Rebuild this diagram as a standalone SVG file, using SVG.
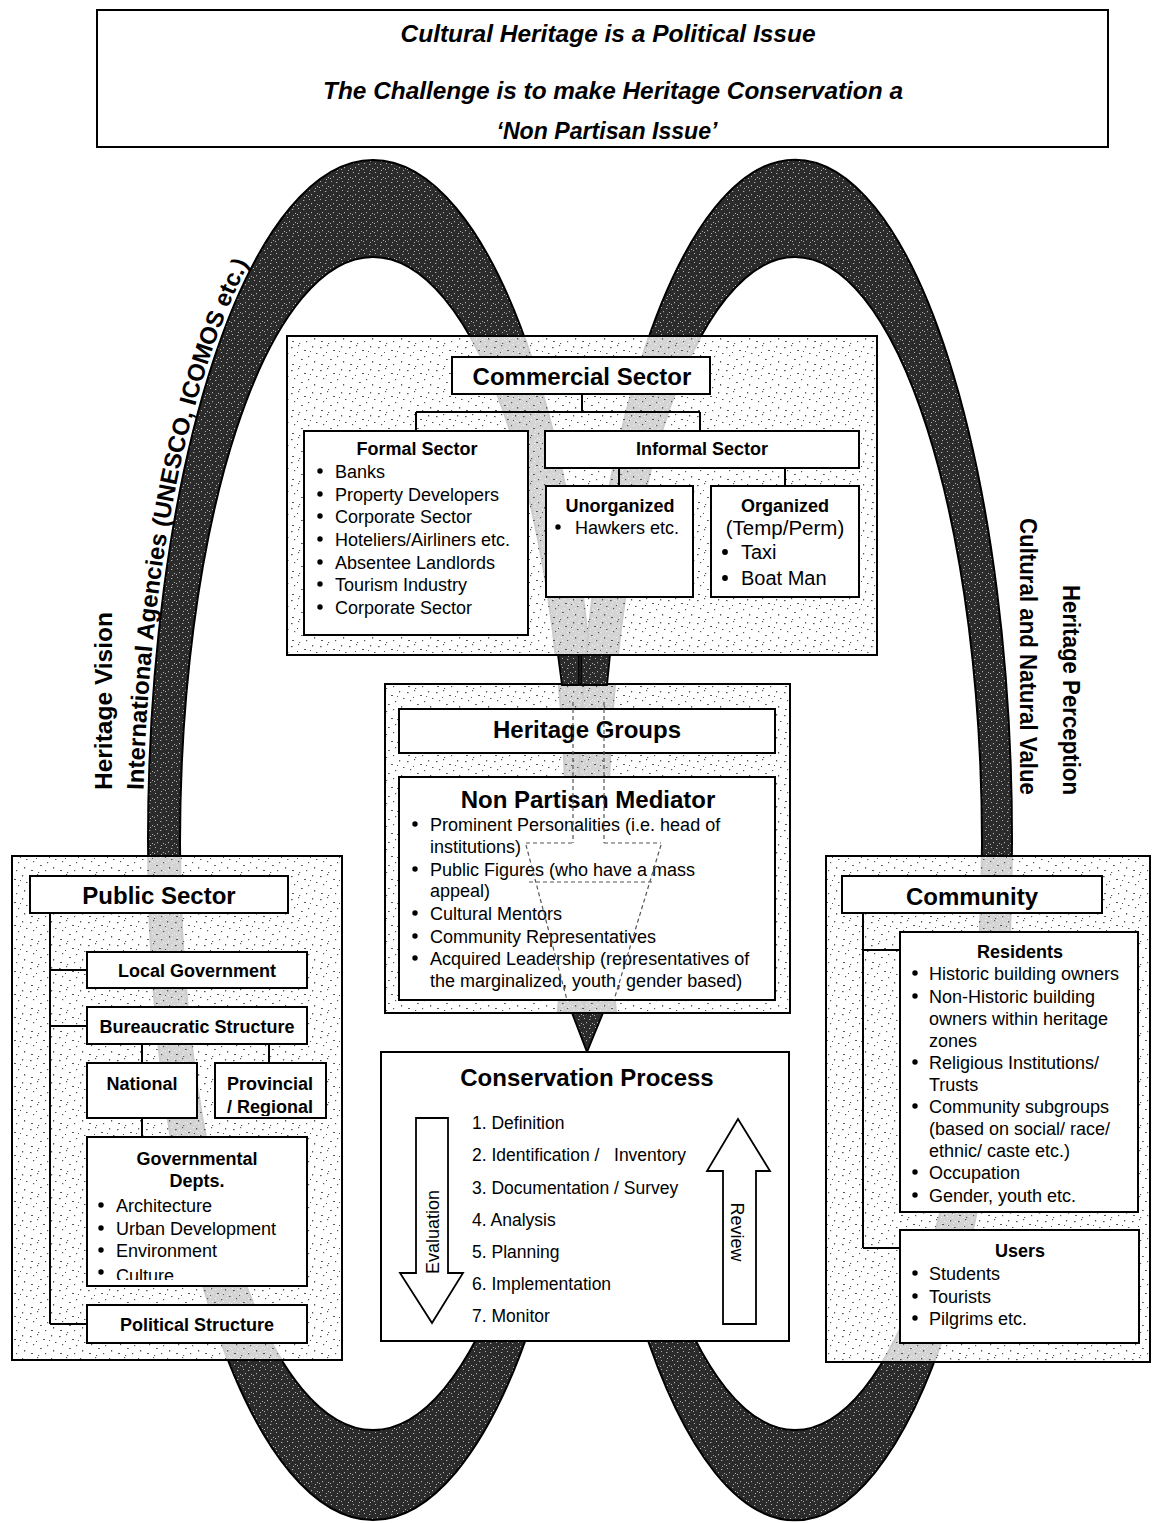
<svg xmlns="http://www.w3.org/2000/svg" width="1153" height="1523" viewBox="0 0 1153 1523">
<defs>
<style>
text{font-family:"Liberation Sans",Arial,sans-serif;fill:#000}
.bx{fill:#fff;stroke:#000;stroke-width:2}
.pn{fill:#fff;fill-opacity:.8}
.pd{fill:url(#stip);stroke:#000;stroke-width:2}
.ln{fill:none;stroke:#000;stroke-width:2}
.h1{font-size:24px;font-weight:bold;text-anchor:middle}
.h2{font-size:18px;font-weight:bold;text-anchor:middle}
.r{font-size:18px}
.ti{font-size:24px;font-weight:bold;font-style:italic;text-anchor:middle}
.side{font-size:24px;font-weight:bold}
.ring{fill:url(#dark);fill-rule:evenodd;stroke:#000;stroke-width:2}
.dk{fill:url(#dark);stroke:#000;stroke-width:1.8}
.gh{fill:none;stroke:#555;stroke-width:1.2;stroke-dasharray:4 3}
.arr{fill:#fff;stroke:#000;stroke-width:1.8}
</style>
<pattern id="stip" width="29" height="23" patternUnits="userSpaceOnUse">
<g fill="#555">
<rect x="1" y="2" width="1.6" height="1.2"/><rect x="8" y="0" width="1.2" height="1.2"/>
<rect x="14" y="5" width="2" height="1"/><rect x="22" y="1" width="1.2" height="1.5"/>
<rect x="26" y="8" width="1.5" height="1"/><rect x="4" y="10" width="1.2" height="1.2"/>
<rect x="11" y="14" width="1.8" height="1"/><rect x="18" y="11" width="1.2" height="1.2"/>
<rect x="24" y="16" width="1.2" height="1.6"/><rect x="2" y="19" width="2" height="1"/>
<rect x="16" y="19" width="1.2" height="1.2"/><rect x="7" y="7" width="1" height="1"/>
<rect x="20" y="6" width="1" height="1"/><rect x="9" y="21" width="1.2" height="1"/>
</g>
</pattern>
<pattern id="dark" width="11" height="9" patternUnits="userSpaceOnUse">
<rect width="11" height="9" fill="#2b2b2b"/>
<g fill="#b0b0b0">
<rect x="1" y="1" width="1" height="1"/><rect x="6" y="2" width="1.3" height="1"/>
<rect x="3" y="5" width="1" height="1.2"/><rect x="9" y="6" width="1" height="1"/>
<rect x="7" y="8" width="1" height="1"/><rect x="0" y="7" width="1" height="1"/>
</g>
</pattern>
<clipPath id="cProv"><rect x="216" y="1064" width="109" height="52"/></clipPath>
<clipPath id="cGov"><rect x="88" y="1138" width="218" height="142"/></clipPath>
<path id="arcL" d="M143.6 790 A230 685 0 0 1 373 155"/>
</defs>

<rect width="1153" height="1523" fill="#fff"/>

<g id="rings">
<path class="ring" d="M148 840 A225 680 0 1 0 598 840 A225 680 0 1 0 148 840 Z M180 843.5 A193 586.5 0 1 0 566 843.5 A193 586.5 0 1 0 180 843.5 Z"/>
<path class="ring" d="M578 840 A217 680 0 1 0 1012 840 A217 680 0 1 0 578 840 Z M608 843.5 A187 586.5 0 1 0 982 843.5 A187 586.5 0 1 0 608 843.5 Z"/>
<rect x="528" y="656" width="130" height="27" fill="#fff"/>
<rect x="528" y="1014" width="130" height="37" fill="#fff"/>
</g>

<g id="side-labels">
<text class="side" transform="translate(112,790) rotate(-90)" textLength="178" lengthAdjust="spacingAndGlyphs">Heritage Vision</text>
<text class="side"><textPath href="#arcL">International Agencies (UNESCO, ICOMOS etc.)</textPath></text>
<text class="side" transform="translate(1063,795) rotate(90)" text-anchor="end" textLength="210" lengthAdjust="spacingAndGlyphs">Heritage Perception</text>
<text class="side" transform="translate(1020,795) rotate(90)" text-anchor="end" textLength="277" lengthAdjust="spacingAndGlyphs">Cultural and Natural Value</text>
</g>

<g id="title">
<rect class="bx" x="97" y="10" width="1011" height="137"/>
<text class="ti" x="608" y="41.5" textLength="415" lengthAdjust="spacingAndGlyphs">Cultural Heritage is a Political Issue</text>
<text class="ti" x="613" y="98.5" textLength="580" lengthAdjust="spacingAndGlyphs">The Challenge is to make Heritage Conservation a</text>
<text class="ti" x="607" y="138.5" textLength="221" lengthAdjust="spacingAndGlyphs">‘Non Partisan Issue’</text>
</g>

<g id="commercial">
<rect class="pn" x="287" y="336" width="590" height="319"/>
<rect class="pd" x="287" y="336" width="590" height="319"/>
<g id="commercial-sector">
<rect class="bx" x="452" y="357" width="258" height="37"/>
<text class="h1" x="582" y="384.5">Commercial Sector</text>
</g>
<g id="formal-sector">
<rect class="bx" x="304" y="431" width="224" height="204"/>
<text class="h2" x="417" y="454.5">Formal Sector</text>
<g fill="#000">
<circle cx="320" cy="471" r="2.7"/><circle cx="320" cy="494" r="2.7"/><circle cx="320" cy="516" r="2.7"/><circle cx="320" cy="539" r="2.7"/><circle cx="320" cy="562" r="2.7"/><circle cx="320" cy="584" r="2.7"/><circle cx="320" cy="607" r="2.7"/>
</g>
<text class="r" x="335" y="477.5">Banks</text>
<text class="r" x="335" y="500.5">Property Developers</text>
<text class="r" x="335" y="522.5">Corporate Sector</text>
<text class="r" x="335" y="545.5">Hoteliers/Airliners etc.</text>
<text class="r" x="335" y="568.5">Absentee Landlords</text>
<text class="r" x="335" y="590.5">Tourism Industry</text>
<text class="r" x="335" y="613.5">Corporate Sector</text>
</g>
<g id="informal-sector">
<rect class="bx" x="545" y="431" width="314" height="37"/>
<text class="h2" x="702" y="454.5">Informal Sector</text>
</g>
<g id="unorganized">
<rect class="bx" x="546" y="486" width="147" height="111"/>
<text class="h2" x="620" y="511.5">Unorganized</text>
<circle cx="558" cy="527" r="2.7"/>
<text class="r" x="575" y="533.5">Hawkers etc.</text>
</g>
<g id="organized">
<rect class="bx" x="711" y="486" width="148" height="111"/>
<text class="h2" x="785" y="511.5">Organized</text>
<text x="785" y="535" font-size="20.5" text-anchor="middle">(Temp/Perm)</text>
<circle cx="725" cy="552" r="2.9"/><circle cx="725" cy="578" r="2.9"/>
<text x="741" y="559" font-size="20">Taxi</text>
<text x="741" y="585" font-size="20">Boat Man</text>
</g>
</g>

<g id="heritage">
<rect class="pn" x="385" y="684" width="405" height="329"/>
<rect class="pd" x="385" y="684" width="405" height="329"/>
<g id="heritage-groups">
<rect class="bx" x="399" y="709" width="376" height="44"/>
<text class="h1" x="587" y="737.5">Heritage Groups</text>
</g>
<g id="mediator">
<rect class="bx" x="399" y="777" width="376" height="223"/>
<text class="h1" x="588" y="807.5">Non Partisan Mediator</text>
<g fill="#000">
<circle cx="415" cy="824" r="2.7"/><circle cx="415" cy="869" r="2.7"/><circle cx="415" cy="913" r="2.7"/><circle cx="415" cy="936" r="2.7"/><circle cx="415" cy="958" r="2.7"/>
</g>
<text class="r" x="430" y="830.5">Prominent Personalities (i.e. head of</text>
<text class="r" x="430" y="852.5">institutions)</text>
<text class="r" x="430" y="875.5">Public Figures (who have a mass</text>
<text class="r" x="430" y="896.5">appeal)</text>
<text class="r" x="430" y="919.5">Cultural Mentors</text>
<text class="r" x="430" y="942.5">Community Representatives</text>
<text class="r" x="430" y="964.5">Acquired Leadership (representatives of</text>
<text class="r" x="430" y="986.5">the marginalized, youth, gender based)</text>
</g>
</g>

<g id="funnel">
<path class="dk" d="M558 655 L579 655 L579 685 L562 685 Z"/>
<path class="dk" d="M581 655 L610 655 L607 685 L581 685 Z"/>
<path class="gh" d="M573 702 V843 M604 702 V843 M526 843 H573 M604 843 H661 M529 882 H655 M526 845 L567 1000 M661 845 L614 1000"/>
<path class="dk" d="M572 1013 L603 1013 L587 1052 Z"/>
</g>

<g id="public">
<rect class="pn" x="12" y="856" width="330" height="504"/>
<rect class="pd" x="12" y="856" width="330" height="504"/>
<g id="public-sector">
<rect class="bx" x="30" y="876" width="258" height="37"/>
<text class="h1" x="159" y="903.5">Public Sector</text>
</g>
<g id="local-government">
<rect class="bx" x="87" y="952" width="220" height="36"/>
<text class="h2" x="197" y="976.5">Local Government</text>
</g>
<g id="bureaucratic">
<rect class="bx" x="87" y="1007" width="220" height="37"/>
<text class="h2" x="197" y="1032.5">Bureaucratic Structure</text>
</g>
<g id="national">
<rect class="bx" x="87" y="1063" width="110" height="55"/>
<text class="h2" x="142" y="1089.5">National</text>
</g>
<g id="provincial">
<rect class="bx" x="215" y="1063" width="111" height="55"/>
<text class="h2" x="270" y="1089.5">Provincial</text>
<text class="h2" x="270" y="1112.5" clip-path="url(#cProv)">/ Regional</text>
</g>
<g id="governmental">
<rect class="bx" x="87" y="1137" width="220" height="149"/>
<text class="h2" x="197" y="1165" font-size="20">Governmental</text>
<text class="h2" x="197" y="1187" font-size="20">Depts.</text>
<g fill="#000"><circle cx="101" cy="1205" r="2.7"/><circle cx="101" cy="1228" r="2.7"/><circle cx="101" cy="1250" r="2.7"/><circle cx="101" cy="1272" r="2.7"/></g>
<text class="r" x="116" y="1211.5">Architecture</text>
<text class="r" x="116" y="1234.5">Urban Development</text>
<text class="r" x="116" y="1256.5">Environment</text>
<text class="r" x="116" y="1281.5" clip-path="url(#cGov)">Culture</text>
</g>
<g id="political">
<rect class="bx" x="87" y="1305" width="220" height="38"/>
<text class="h2" x="197" y="1330.5">Political Structure</text>
</g>
</g>

<g id="community">
<rect class="pn" x="826" y="856" width="324" height="506"/>
<rect class="pd" x="826" y="856" width="324" height="506"/>
<g id="community-title">
<rect class="bx" x="842" y="876" width="260" height="37"/>
<text class="h1" x="972" y="904.5">Community</text>
</g>
<g id="residents">
<rect class="bx" x="900" y="932" width="238" height="280"/>
<text class="h2" x="1020" y="957.5">Residents</text>
<g fill="#000"><circle cx="915" cy="973" r="2.7"/><circle cx="915" cy="996" r="2.7"/><circle cx="915" cy="1062" r="2.7"/><circle cx="915" cy="1106" r="2.7"/><circle cx="915" cy="1172" r="2.7"/><circle cx="915" cy="1195" r="2.7"/></g>
<text class="r" x="929" y="979.5">Historic building owners</text>
<text class="r" x="929" y="1002.5">Non-Historic building</text>
<text class="r" x="929" y="1024.5">owners within heritage</text>
<text class="r" x="929" y="1046.5">zones</text>
<text class="r" x="929" y="1068.5">Religious Institutions/</text>
<text class="r" x="929" y="1090.5">Trusts</text>
<text class="r" x="929" y="1112.5">Community subgroups</text>
<text class="r" x="929" y="1134.5">(based on social/ race/</text>
<text class="r" x="929" y="1156.5">ethnic/ caste etc.)</text>
<text class="r" x="929" y="1178.5">Occupation</text>
<text class="r" x="929" y="1201.5">Gender, youth etc.</text>
</g>
<g id="users">
<rect class="bx" x="900" y="1230" width="239" height="113"/>
<text class="h2" x="1020" y="1256.5">Users</text>
<g fill="#000"><circle cx="915" cy="1273" r="2.7"/><circle cx="915" cy="1296" r="2.7"/><circle cx="915" cy="1318" r="2.7"/></g>
<text class="r" x="929" y="1279.5">Students</text>
<text class="r" x="929" y="1302.5">Tourists</text>
<text class="r" x="929" y="1324.5">Pilgrims etc.</text>
</g>
</g>

<g id="conservation">
<rect class="bx" x="381" y="1052" width="408" height="289"/>
<text class="h1" x="587" y="1085.5">Conservation Process</text>
<g font-size="17.5">
<text x="472" y="1129.3">1. Definition</text>
<text x="472" y="1161.3" xml:space="preserve">2. Identification /   Inventory</text>
<text x="472" y="1194.3">3. Documentation / Survey</text>
<text x="472" y="1226.3">4. Analysis</text>
<text x="472" y="1258.3">5. Planning</text>
<text x="472" y="1290.3">6. Implementation</text>
<text x="472" y="1322.3">7. Monitor</text>
</g>
<g id="evaluation-arrow">
<polygon class="arr" points="416,1118 448,1118 448,1273 463,1273 432,1323 400,1273 416,1273"/>
<text class="r" transform="translate(439,1232) rotate(-90)" text-anchor="middle">Evaluation</text>
</g>
<g id="review-arrow">
<polygon class="arr" points="723,1324 756,1324 756,1171 770,1171 738,1119 707,1171 723,1171"/>
<text class="r" transform="translate(731,1232) rotate(90)" text-anchor="middle">Review</text>
</g>
</g>

<g id="connectors" class="ln">
<path d="M582 394 V412 M416 412 H700 M416 412 V431 M700 412 V431"/>
<path d="M619 468 V486 M785 468 V486"/>
<path d="M50 913 V1324 M50 970 H87 M50 1026 H87 M50 1324 H87"/>
<path d="M142 1044 V1063 M269 1044 V1063 M142 1118 V1137"/>
<path d="M863 913 V1248 M863 950 H900 M863 1248 H900"/>
</g>
</svg>
